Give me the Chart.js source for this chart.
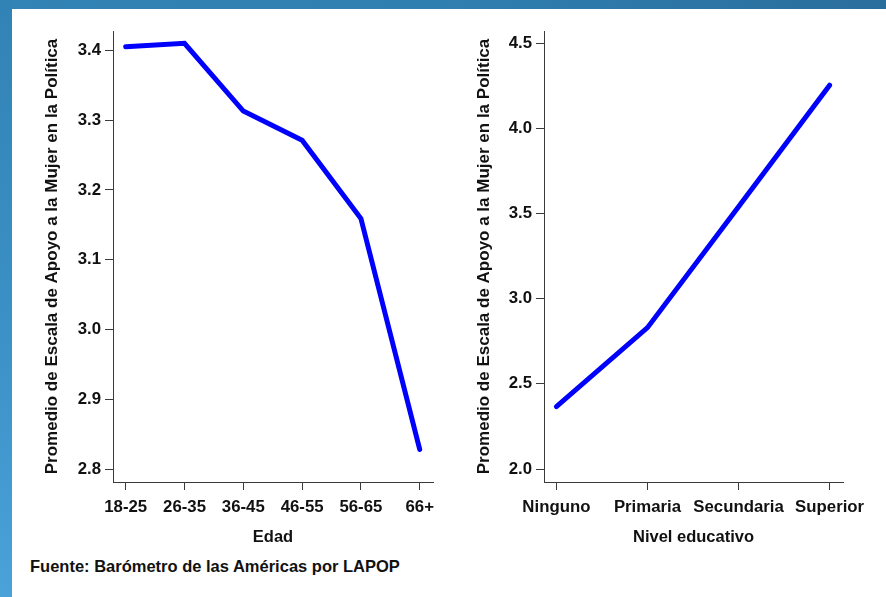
<!DOCTYPE html>
<html>
<head>
<meta charset="utf-8">
<script src="https://cdn.jsdelivr.net/npm/chart.js@4.4.0/dist/chart.umd.min.js"></script>
<style>
  html, body { margin: 0; padding: 0; width: 886px; height: 597px; overflow: hidden; background: #ffffff; }
  #topband { position: absolute; left: 0; top: 0; width: 886px; height: 9px;
    background: linear-gradient(to right, #3384b6, #2f7fb0 50%, #2a6e9c); }
  #leftband { position: absolute; left: 0; top: 0; width: 12px; height: 597px;
    background: linear-gradient(to bottom, #3283b5, #3a8fc4 50%, #4aa2d8); }
  canvas { position: absolute; }
  #c1 { left: 12px; top: 9px; }
  #c2 { left: 455px; top: 9px; }
  #note { position: absolute; left: 30px; top: 557px; font: bold 16.5px "Liberation Sans", Arial, sans-serif; color: #111; white-space: nowrap; }
</style>
</head>
<body>
<div id="topband"></div>
<div id="leftband"></div>
<canvas id="c1" width="443" height="540"></canvas>
<canvas id="c2" width="431" height="540"></canvas>
<div id="note">Fuente: Barómetro de las Américas por LAPOP</div>
<script>
// ---- Data ----
const ageCategories = ["18-25", "26-35", "36-45", "46-55", "56-65", "66+"];
const ageValues = [3.405, 3.410, 3.313, 3.271, 3.159, 2.828];
const ageYTicks = [2.8, 2.9, 3.0, 3.1, 3.2, 3.3, 3.4];

const eduCategories = ["Ninguno", "Primaria", "Secundaria", "Superior"];
const eduValues = [2.366, 2.830, 3.540, 4.254];
const eduYTicks = [2.0, 2.5, 3.0, 3.5, 4.0, 4.5];

const yTitle = "Promedio de Escala de Apoyo a la Mujer en la Política";
const ageXTitle = "Edad";
const eduXTitle = "Nivel educativo";

const FONT = '"Liberation Sans", Arial, sans-serif';
const AXIS = '#3a3a3a';
const TXT = '#111111';

function makeChart(id, cats, vals, yTicks, xTitle, cfg) {
  const pts = vals.map((v, i) => ({ x: i, y: v }));
  return new Chart(document.getElementById(id), {
    type: 'line',
    data: {
      datasets: [{
        data: pts,
        borderColor: '#0000ff',
        borderWidth: 5,
        pointRadius: 0,
        tension: 0,
        borderCapStyle: 'round',
        fill: false
      }]
    },
    options: {
      responsive: false,
      animation: false,
      events: [],
      layout: { padding: { top: 22, right: cfg.padRight, left: 0, bottom: 0 } },
      plugins: { legend: { display: false }, tooltip: { enabled: false }, title: { display: false } },
      scales: {
        x: {
          type: 'linear',
          min: cfg.xMin, max: cfg.xMax,
          afterBuildTicks: s => { s.ticks = cats.map((c, i) => ({ value: i })); },
          afterFit: s => { s.height = 67; },
          ticks: {
            autoSkip: false, maxRotation: 0, padding: 7,
            color: TXT, font: { family: FONT, size: 16.8, weight: 'bold' },
            callback: v => cats[v]
          },
          grid: { display: true, drawOnChartArea: false, drawTicks: true, tickLength: 8, color: AXIS, lineWidth: 1 },
          border: { display: true, color: AXIS, width: 1 },
          title: { display: true, text: xTitle, color: TXT, font: { family: FONT, size: 16.5, weight: 'bold' }, padding: { top: 0, bottom: 2 } }
        },
        y: {
          type: 'linear',
          min: cfg.yMin, max: cfg.yMax,
          afterBuildTicks: s => { s.ticks = yTicks.map(v => ({ value: v })); },
          afterFit: s => { s.width = cfg.yWidth; },
          ticks: {
            padding: 4,
            color: TXT, font: { family: FONT, size: 16.8, weight: 'bold' },
            callback: v => Number(v).toFixed(1)
          },
          grid: { display: true, drawOnChartArea: false, drawTicks: true, tickLength: 8, color: AXIS, lineWidth: 1 },
          border: { display: true, color: AXIS, width: 1 },
          title: { display: true, text: yTitle, color: TXT, font: { family: FONT, size: 17, weight: 'bold' }, padding: { top: cfg.yTitlePad, bottom: 0 } }
        }
      }
    }
  });
}

makeChart('c1', ageCategories, ageValues, ageYTicks, ageXTitle, {
  xMin: -0.216, xMax: 5.226, yMin: 2.7814, yMax: 3.4277, yWidth: 101, padRight: 22, yTitlePad: 30
});
makeChart('c2', eduCategories, eduValues, eduYTicks, eduXTitle, {
  xMin: -0.136, xMax: 3.147, yMin: 1.9237, yMax: 4.572, yWidth: 89, padRight: 43, yTitlePad: 19
});
</script>
</body>
</html>
